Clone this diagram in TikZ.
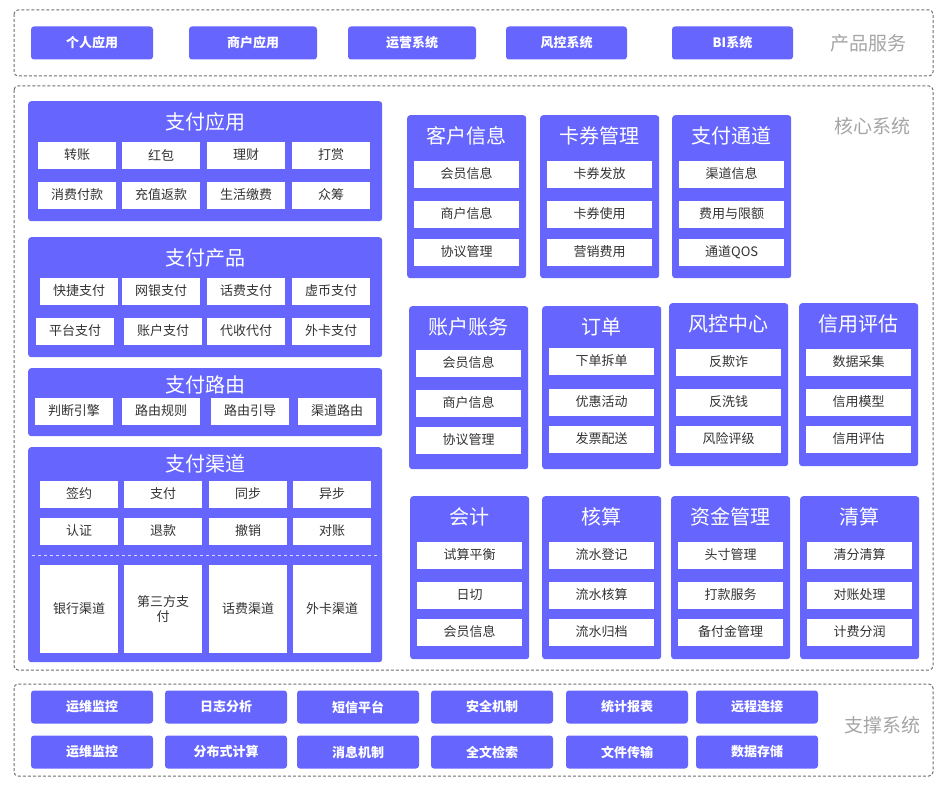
\documentclass[tikz,border=0pt]{standalone}
\usepackage{fontspec}
\setmainfont{Noto Sans CJK SC}
\usetikzlibrary{positioning,calc}
\definecolor{boxblue}{RGB}{102,102,255}
\definecolor{framegray}{RGB}{110,110,110}
\definecolor{labelgray}{RGB}{165,165,165}
\definecolor{itemtext}{RGB}{51,51,51}
\tikzset{
  frame/.style={draw=framegray, dash pattern=on 3pt off 2pt, rounded corners=4pt, line width=1pt},
  btn/.style={fill=boxblue, rounded corners=3pt, minimum width=122pt, minimum height=33pt,
    inner sep=0pt, text=white, font=\fontsize{13}{15}\selectfont\bfseries},
  panel/.style={fill=boxblue, rounded corners=3pt, inner sep=0pt, anchor=north west},
  paneltitle/.style={text=white, inner sep=0pt, font=\fontsize{20}{22}\selectfont},
  item/.style={fill=white, minimum width=78pt, minimum height=27pt, inner sep=0pt,
    text=itemtext, font=\fontsize{13}{15}\selectfont},
  sepline/.style={draw=white!75!boxblue, dashed, line width=1pt},
  grouplabel/.style={text=labelgray, inner sep=0pt, font=\fontsize{19}{21}\selectfont}
}
% core panel: name, left, top, title, three items
\newcommand{\corepanel}[5]{
  \node[panel, minimum width=119pt, minimum height=163pt] (#1) at (#2,#3) {};
  \node[paneltitle] (#1-t) at ($(#1.north)+(0,21)$) {#4};
  \foreach \t/\dy [count=\i] in {#5}
    \node[item, minimum width=105pt] (#1-\i) at ($(#1.north)+(0,\dy)$) {\t};
}

\begin{document}
\begin{tikzpicture}[x=1pt,y=-1pt]
\useasboundingbox (0,0) rectangle (946,792);

% frames
\draw[frame] (14,10) rectangle (933,76);
\draw[frame] (14,86) rectangle (933,670);
\draw[frame] (14,684) rectangle (933,776);

% product services
\foreach \x/\w/\t [count=\i] in {92/122/个人应用,253/128/商户应用,412/128/运营系统,566.5/121/风控系统,732.5/121/BI系统}
  \node[btn, minimum width=\w pt] (prod-\i) at (\x,43) {\t};
\node[grouplabel] (prodlabel) at (868,43) {产品服务};

% core system
\node[grouplabel] (corelabel) at (872,126) {核心系统};

\node[panel, minimum width=354pt, minimum height=120pt] (payapp) at (28,101) {};
\node[paneltitle] (payapp-t) at (205,122) {支付应用};
\foreach \x/\t [count=\i] in {77/转账,161/红包,246/理财,331/打赏}
  \node[item] (payapp-a\i) at (\x,155) {\t};
\foreach \x/\t [count=\i] in {77/消费付款,161/充值返款,246/生活缴费,331/众筹}
  \node[item] (payapp-b\i) at (\x,195) {\t};

\node[panel, minimum width=354pt, minimum height=120pt] (payprod) at (28,237) {};
\node[paneltitle] (payprod-t) at (205,258) {支付产品};
\foreach \x/\t [count=\i] in {79/快捷支付,161/网银支付,246/话费支付,331/虚币支付}
  \node[item] (payprod-a\i) at (\x,291) {\t};
\foreach \x/\t [count=\i] in {75/平台支付,163/账户支付,246/代收代付,331/外卡支付}
  \node[item] (payprod-b\i) at (\x,331) {\t};

\node[panel, minimum width=354pt, minimum height=68pt] (payroute) at (28,368) {};
\node[paneltitle] (payroute-t) at (205,385) {支付路由};
\foreach \x/\t [count=\i] in {74/判断引擎,161/路由规则,250/路由引导,337/渠道路由}
  \node[item] (payroute-a\i) at (\x,411) {\t};

\node[panel, minimum width=354pt, minimum height=215pt] (paychan) at (28,447) {};
\node[paneltitle] (paychan-t) at (205,464) {支付渠道};
\foreach \x/\t [count=\i] in {79/签约,163/支付,248/同步,332/异步}
  \node[item] (paychan-a\i) at (\x,494) {\t};
\foreach \x/\t [count=\i] in {79/认证,163/退款,248/撤销,332/对账}
  \node[item] (paychan-b\i) at (\x,531) {\t};
\draw[sepline] (32,555) -- (380,555);
\foreach \x/\t [count=\i] in {79/银行渠道,163/{第三方支\\付},248/话费渠道,332/外卡渠道}
  \node[item, minimum height=88pt, align=center] (paychan-c\i) at (\x,609) {\t};

\corepanel{cust}{407}{115}{客户信息}{会员信息/59,商户信息/99,协议管理/137}
\corepanel{card}{540}{115}{卡券管理}{卡券发放/59,卡券使用/99,营销费用/137}
\corepanel{chan}{672}{115}{支付通道}{渠道信息/59,费用与限额/99,通道QOS/137}

\corepanel{acct}{409}{306}{账户账务}{会员信息/57,商户信息/97,协议管理/134}
\corepanel{order}{542}{306}{订单}{下单拆单/55,优惠活动/96,发票配送/133}
\corepanel{risk}{669}{303}{风控中心}{反欺诈/59,反洗钱/99,风险评级/136}
\corepanel{credit}{799}{303}{信用评估}{数据采集/59,信用模型/99,信用评估/136}

\corepanel{acc}{410}{496}{会计}{试算平衡/59,日切/99,会员信息/136}
\corepanel{check}{542}{496}{核算}{流水登记/59,流水核算/99,流水归档/136}
\corepanel{fund}{671}{496}{资金管理}{头寸管理/59,打款服务/99,备付金管理/136}
\corepanel{clear}{800}{496}{清算}{清分清算/59,对账处理/99,计费分润/136}

% support system
\foreach \x/\t [count=\i] in {92/运维监控,226/日志分析,358/短信平台,492/安全机制,627/统计报表,757/远程连接}
  \node[btn] (sup-a\i) at (\x,707) {\t};
\foreach \x/\t [count=\i] in {92/运维监控,226/分布式计算,358/消息机制,492/全文检索,627/文件传输,757/数据存储}
  \node[btn] (sup-b\i) at (\x,752) {\t};
\node[grouplabel] (suplabel) at (882,725) {支撑系统};

\end{tikzpicture}
\end{document}
